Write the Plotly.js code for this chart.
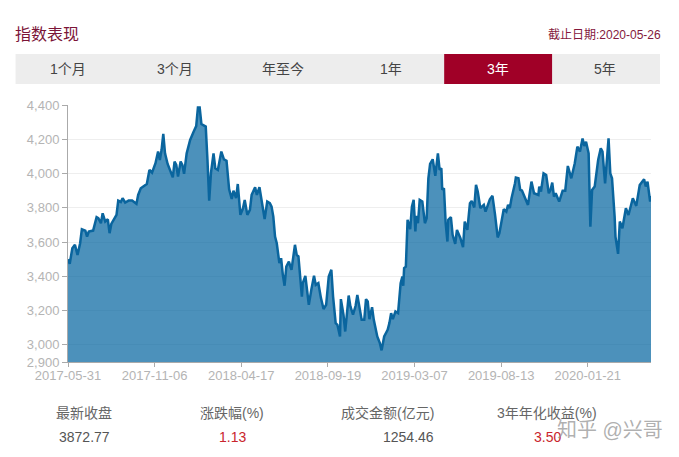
<!DOCTYPE html>
<html><head><meta charset="utf-8">
<script src="https://cdn.plot.ly/plotly-3.0.1.min.js"></script>
<style>html,body{margin:0;padding:0;background:#fff}#c{width:679px;height:457px}</style>
</head><body><div id="c"></div>
<script>
const tradingDay=[0,2,5,8,11,14,16,20,22,24,29,33,35,38,40,43,46,48,50,56,58,61,63,66,70,74,79,81,84,88,91,94,97,101,104,106,108,110,112,115,118,121,123,125,127,130,132,134,137,141,145,148,150,152,154,159,161,163,165,168,170,173,177,180,183,186,189,191,194,196,199,202,204,207,210,212,216,218,221,224,227,230,233,235,237,239,241,244,246,248,250,252,255,258,262,264,266,270,271,274,276,278,281,284,286,289,292,295,298,301,304,306,309,311,314,315,318,320,324,326,329,332,334,336,339,342,344,346,348,351,353,357,360,362,365,369,371,373,375,378,381,384,386,387,388,390,392,395,397,399,401,402,404,406,409,412,414,416,418,421,424,427,429,431,432,434,436,438,439,442,444,447,449,453,456,458,461,464,466,469,471,473,476,480,482,487,490,493,496,498,500,503,506,508,510,512,516,517,520,522,524,528,531,535,538,543,544,546,549,552,555,557,559,561,563,567,571,574,577,581,585,588,591,594,596,598,601,603,605,608,610,612,615,617,620,624,626,628,631,632,635,637,640,644,647,652,656,660,665,667,669,672,673];
const closeValue=[3500,3473,3564,3584,3525,3593,3675,3667,3632,3661,3667,3745,3739,3710,3768,3720,3733,3652,3706,3759,3842,3834,3856,3831,3842,3842,3823,3875,3914,3928,3939,4021,4005,4060,4128,4079,4137,4231,4118,4056,4011,3978,4070,4050,3982,4070,4050,3998,4118,4196,4244,4277,4386,4386,4289,4274,4079,3842,4002,4118,4031,4021,4128,4083,4075,3908,3852,3900,3856,3939,3759,3797,3846,3759,3788,3875,3920,3875,3920,3827,3735,3836,3827,3807,3749,3632,3593,3477,3506,3409,3345,3457,3486,3438,3584,3525,3516,3282,3360,3403,3321,3234,3325,3403,3350,3360,3273,3209,3234,3399,3438,3282,3127,3117,3049,3267,3176,3078,3288,3224,3176,3228,3292,3224,3146,3146,3267,3253,3150,3220,3146,3049,3010,2968,3049,3088,3127,3185,3150,3195,3185,3360,3399,3345,3448,3457,3730,3675,3807,3846,3662,3753,3710,3846,3837,3710,3739,3972,4056,4083,3986,4118,4021,4031,3905,3914,3710,3603,3730,3745,3642,3590,3671,3623,3570,3720,3671,3827,3840,3802,3934,3895,3798,3817,3778,3850,3870,3759,3627,3652,3700,3792,3778,3817,3798,3856,3943,3976,3972,3905,3901,3850,3817,3953,3885,3875,3924,3895,4001,3992,3885,3904,3947,3865,3885,3836,3900,3900,4044,3972,4060,4157,4128,4205,4161,4186,4118,3690,3904,3924,3992,4079,4147,4128,3943,4205,4001,3972,3749,3632,3531,3720,3681,3797,3758,3856,3811,3933,3966,3924,3953,3836,3869];
const xTickPos=[0,100,200,300,400,500,600];
const xTickLabels=["2017-05-31","2017-11-06","2018-04-17","2018-09-19","2019-03-07","2019-08-13","2020-01-21"];
const yTickVals=[2900,3000,3200,3400,3600,3800,4000,4200,4400];
const tabLabels=["1个月","3个月","年至今","1年","3年","5年"];
const statLabels=["最新收盘","涨跌幅(%)","成交金额(亿元)","3年年化收益(%)"];
const statValues=["3872.77","1.13","1254.46","3.50"];

const W=679,H=457,L=67.5,R=28,T=105,B=95;
const fx=p=>(p-L)/(W-L-R), fy=p=>1-(p-T)/(H-T-B);
const FONT='"Liberation Sans","Noto Sans CJK SC",sans-serif';
const note=(text,x,y,size,color,anchor)=>({text,xref:'paper',yref:'paper',x:fx(x),y:fy(y),xanchor:anchor||'center',yanchor:'middle',showarrow:false,font:{family:FONT,size,color}});

const shapes=[
 {type:'rect',xref:'paper',yref:'paper',x0:fx(15),x1:fx(660),y0:fy(54),y1:fy(84),fillcolor:'#ededed',line:{width:0},layer:'below'},
 {type:'rect',xref:'paper',yref:'paper',x0:fx(444),x1:fx(552),y0:fy(54),y1:fy(84),fillcolor:'#a00027',line:{width:0},layer:'below'}
];
const tabX=[68,175,283,391,498,605], statX=[84,232,387,547], valueX=[84,232,408,547];
const valueColors=['#555','#c9252d','#555','#c9252d'];
const annotations=[
 note('指数表现',12,34,16,'#7b1437','left'),
 note('截止日期:2020-05-26',663,35,12,'#84183c','right')
];
tabLabels.forEach((t,i)=>annotations.push(note(t,tabX[i],69,14,i===4?'#fff':'#444')));
statLabels.forEach((t,i)=>annotations.push(note(t,statX[i],413,14,'#666')));
statValues.forEach((t,i)=>annotations.push(note(t,valueX[i],437,14,valueColors[i])));
annotations.push(note('知乎 @兴哥',665,430,20,'rgba(150,150,150,0.75)','right'));

Plotly.newPlot('c',[{
  x:tradingDay,y:closeValue,type:'scatter',mode:'lines',fill:'tozeroy',
  fillcolor:'rgba(0,98,158,0.70)',line:{color:'#0a659e',width:2.5},hoverinfo:'skip'
}],{
  width:W,height:H,margin:{l:L,r:R,t:T,b:B,pad:0},
  paper_bgcolor:'#fff',plot_bgcolor:'#fff',showlegend:false,
  font:{family:FONT},
  xaxis:{range:[0,673],tickmode:'array',tickvals:xTickPos,ticktext:xTickLabels,ticks:'outside',ticklen:4,tickcolor:'#aaa',ticklabelstandoff:-3,
    showgrid:false,zeroline:false,showline:true,linecolor:'#aaa',linewidth:1,tickfont:{size:13,color:'#b4b4b4'}},
  yaxis:{range:[2900,4400],tickmode:'array',tickvals:yTickVals,tickformat:',d',ticks:'outside',ticklen:5,tickcolor:'#aaa',
    showgrid:true,gridcolor:'#eeeeee',gridwidth:1,zeroline:false,showline:true,linecolor:'#aaa',linewidth:1,tickfont:{size:13,color:'#b4b4b4'}},
  shapes,annotations
},{displayModeBar:false,staticPlot:true});
</script></body></html>
